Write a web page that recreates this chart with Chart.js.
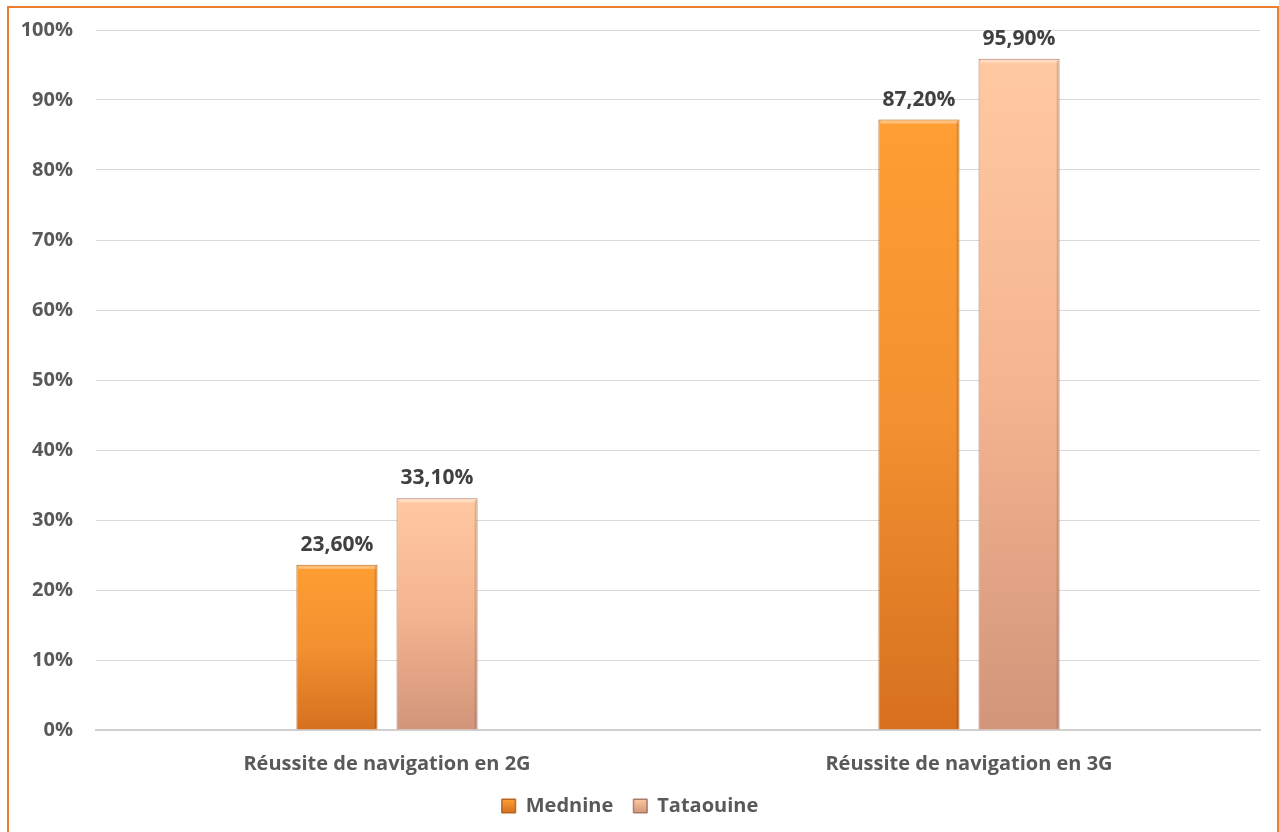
<!DOCTYPE html>
<html>
<head>
<meta charset="utf-8">
<script src="https://cdn.jsdelivr.net/npm/chart.js@4.4.0/dist/chart.umd.min.js"></script>
<style>
  html, body { margin: 0; padding: 0; background: #fff; overflow: hidden; }
  #wrap { position: relative; width: 1279px; height: 832px; }
  #cadre { position: absolute; left: 7px; top: 6px; width: 1268px; height: 900px;
           border: 2px solid #ED7D31; pointer-events: none; }
  canvas { position: absolute; left: 0; top: 0; }
</style>
</head>
<body>
<div id="wrap">
  <canvas id="graphique" width="1279" height="832"></canvas>
  <div id="cadre"></div>
</div>
<script>
// données
const categories = ['Réussite de navigation en 2G', 'Réussite de navigation en 3G'];
const mednine = [23.6, 87.2];
const tataouine = [33.1, 95.9];
const yTicks = [0, 10, 20, 30, 40, 50, 60, 70, 80, 90, 100];

const police = "'Open Sans', 'DejaVu Sans', sans-serif";
const gris = '#595959';

const couleurs = [
    { haut: '#FF9E33', milieu: '#F39030', bas: '#D6701F', bord: '#B8641E' },
    { haut: '#FFC9A1', milieu: '#F4B490', bas: '#D2957A', bord: '#A87A66' }
];

// dégradé vertical propre à chaque barre
function degrade(col) {
    return (ctx) => {
        const chart = ctx.chart;
        if (ctx.type !== 'data' || !chart.chartArea) return col.milieu;
        const y = chart.scales.y;
        const y0 = y.getPixelForValue(ctx.raw);
        const y1 = y.getPixelForValue(0);
        const g = chart.ctx.createLinearGradient(0, y0, 0, y1);
        g.addColorStop(0, col.haut);
        g.addColorStop(0.5, col.milieu);
        g.addColorStop(1, col.bas);
        return g;
    };
}

const formatPct = v => v.toFixed(2).replace('.', ',') + '%';

// étiquettes au-dessus des barres + petit relief en haut
const etiquettes = {
    id: 'etiquettes',
    afterDatasetsDraw(chart) {
        const c = chart.ctx;
        chart.data.datasets.forEach((ds, i) => {
            const meta = chart.getDatasetMeta(i);
            meta.data.forEach((bar, j) => {
                const w = bar.width;
                // reflet clair en haut de la barre
                c.save();
                c.fillStyle = 'rgba(255,255,255,0.35)';
                c.fillRect(bar.x - w / 2 + 2, bar.y + 1, w - 4, 3);
                c.fillStyle = 'rgba(0,0,0,0.12)';
                c.fillRect(bar.x + w / 2 - 3, bar.y + 2, 2, bar.base - bar.y - 3);
                c.restore();

                c.save();
                c.font = `bold 21px ${police}`;
                c.fillStyle = '#404040';
                c.textAlign = 'center';
                c.textBaseline = 'alphabetic';
                c.fillText(formatPct(ds.data[j]), bar.x, bar.y - 14);
                c.restore();
            });
        });
    },
    // carrés de légende en dégradé, comme dans Excel
    afterDraw(chart) {
        const leg = chart.legend;
        if (!leg || !leg.legendHitBoxes) return;
        const c = chart.ctx;
        leg.legendHitBoxes.forEach((hb, i) => {
            const col = couleurs[i];
            const x = hb.left, y = hb.top + (hb.height - 14) / 2;
            const g = c.createLinearGradient(0, y, 0, y + 14);
            g.addColorStop(0, col.haut);
            g.addColorStop(1, col.bas);
            c.save();
            c.fillStyle = g;
            c.fillRect(x, y, 14, 14);
            c.strokeStyle = col.bord;
            c.lineWidth = 1;
            c.strokeRect(x + 0.5, y + 0.5, 13, 13);
            c.restore();
        });
    }
};

const ctx = document.getElementById('graphique').getContext('2d');
new Chart(ctx, {
    type: 'bar',
    data: {
        labels: categories,
        datasets: [
            {
                label: 'Mednine',
                data: mednine,
                backgroundColor: degrade(couleurs[0]),
                borderColor: couleurs[0].bord,
                borderWidth: 1
            },
            {
                label: 'Tataouine',
                data: tataouine,
                backgroundColor: degrade(couleurs[1]),
                borderColor: couleurs[1].bord,
                borderWidth: 1
            }
        ]
    },
    options: {
        responsive: false,
        animation: false,
        categoryPercentage: 0.344,
        barPercentage: 0.81,
        layout: { padding: { top: 30, right: 19, left: 0, bottom: 6 } },
        plugins: {
            legend: {
                position: 'bottom',
                labels: {
                    boxWidth: 14,
                    boxHeight: 14,
                    padding: 20,
                    color: gris,
                    font: { family: police, size: 20, weight: 'bold' }
                }
            },
            tooltip: { enabled: false }
        },
        scales: {
            x: {
                afterFit(scale) { scale.height = 46; },
                grid: { display: false },
                border: { color: '#D0D0D0', width: 2 },
                ticks: {
                    padding: 14,
                    color: gris,
                    font: { family: police, size: 20, weight: 'bold' }
                }
            },
            y: {
                min: 0,
                max: 100,
                afterFit(scale) {
                    scale.width = 96;
                    scale.paddingTop = 0;
                },
                afterBuildTicks(scale) { scale.ticks = yTicks.map(v => ({ value: v })); },
                border: { display: false },
                grid: { color: '#D9D9D9', drawTicks: false },
                ticks: {
                    padding: 23,
                    color: gris,
                    font: { family: police, size: 20, weight: 'bold' },
                    callback: v => v + '%'
                }
            }
        }
    },
    plugins: [etiquettes]
});
</script>
</body>
</html>
